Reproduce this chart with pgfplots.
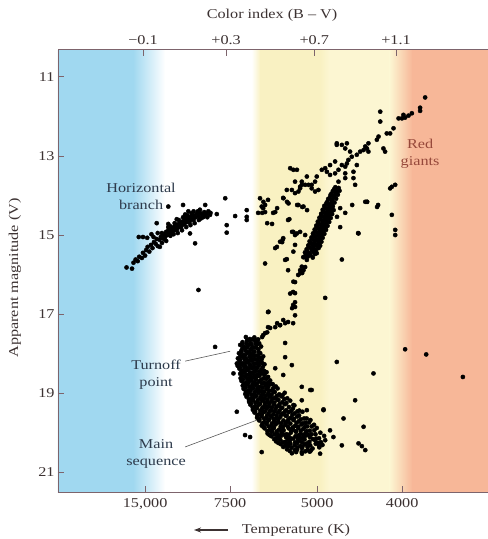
\documentclass[border=0pt]{standalone}
\usepackage{fontspec}
\setmainfont{Liberation Serif}[FakeStretch=1.2]
\usepackage{pgfplots}
\pgfplotsset{compat=1.18}
\usetikzlibrary{arrows.meta}
\definecolor{bgblue}{RGB}{160,216,240}
\definecolor{bgyel}{RGB}{249,241,194}
\definecolor{bgyel2}{RGB}{252,246,210}
\definecolor{bgsal}{RGB}{247,183,152}
\definecolor{axiscol}{RGB}{125,100,108}
\definecolor{tickcol}{RGB}{60,50,50}
\definecolor{notecol}{RGB}{45,58,75}
\definecolor{redcol}{RGB}{150,72,58}
\begin{document}
\begin{tikzpicture}
\path[use as bounding box] (-58bp,-47bp) rectangle (430bp,492bp);
\begin{axis}[
  at={(0,0)}, anchor=south west,
  scale only axis, width=430bp, height=442bp,
  xmin=-0.503, xmax=1.536, ymin=10.32, ymax=21.5, y dir=reverse,
  axis line style={draw=none},
  axis on top,
  tick align=inside, major tick length=6bp,
  tick style={draw=axiscol, line width=0.8bp},
  xtick={-0.090,0.313,0.726,1.129},
  xticklabels={{15,000},7500,5000,4000},
  xtick pos=bottom, xticklabel pos=bottom,
  xticklabel style={yshift=-3bp},
  ytick={11,13,15,17,19,21}, yticklabels={11,13,15,17,19,21},
  ytick pos=left,
  ticklabel style={font=\fontsize{13.5bp}{15bp}\selectfont, text=tickcol},
  mark size=2.1bp,
]
% background colour bands
\fill[bgblue] (axis cs:-0.6,10) rectangle (axis cs:-0.145,22);
\shade[left color=bgblue, right color=white] (axis cs:-0.147,10) rectangle (axis cs:0.005,22);
\shade[left color=white, right color=bgyel] (axis cs:0.415,10) rectangle (axis cs:0.457,22);
\fill[bgyel] (axis cs:0.455,10) rectangle (axis cs:0.742,22);
\shade[left color=bgyel, right color=bgyel2] (axis cs:0.74,10) rectangle (axis cs:0.782,22);
\fill[bgyel2] (axis cs:0.78,10) rectangle (axis cs:1.072,22);
\shade[left color=bgyel2, right color=bgsal] (axis cs:1.07,10) rectangle (axis cs:1.178,22);
\fill[bgsal] (axis cs:1.176,10) rectangle (axis cs:1.7,22);

% horizontal branch
\addplot[only marks, mark=*, black] coordinates {
(-0.178,15.82) (-0.152,15.85) (-0.145,15.70) (-0.135,15.62) (-0.125,15.66) (-0.118,15.55)
(-0.105,15.58) (-0.100,15.45) (-0.090,15.52) (-0.085,15.38) (-0.078,15.30) (-0.070,15.42)
(-0.062,15.25) (-0.055,15.33) (-0.048,15.18) (-0.040,15.22) (-0.035,15.10) (-0.030,15.28)
(-0.022,15.12) (-0.015,15.04) (-0.010,15.20) (-0.005,15.08) (-0.120,15.05) (-0.100,15.05) (-0.080,15.07)
(0.000,14.98) (0.005,15.05) (0.010,14.92) (0.015,15.00) (0.020,14.88) (0.025,14.95)
(0.030,14.85) (0.035,14.92) (0.040,14.82) (0.045,14.88) (0.050,14.78) (0.055,14.85)
(0.060,14.75) (0.065,14.82) (0.070,14.72) (0.075,14.78) (0.080,14.68) (0.085,14.75)
(0.090,14.65) (0.095,14.72) (0.100,14.62) (0.105,14.68) (0.110,14.58) (0.115,14.64)
(0.120,14.55) (0.125,14.62) (0.130,14.52) (0.135,14.58) (0.140,14.50) (0.150,14.55)
(0.155,14.46) (0.165,14.52) (0.170,14.44) (0.180,14.48) (0.190,14.42) (0.200,14.46)
(0.210,14.40) (0.220,14.44)
(0.020,14.80) (0.040,14.95) (0.060,14.88) (0.080,14.80) (0.100,14.55) (0.120,14.68)
(0.140,14.62) (0.160,14.40) (0.000,15.10) (0.030,15.02) (-0.010,14.95) (0.070,14.62)
(0.090,14.55) (0.110,14.50) (0.130,14.45) (0.050,14.70) (0.175,14.58) (0.195,14.50)
(0.020,14.72) (0.045,14.98) (0.065,14.95) (0.085,14.88) (0.105,14.80) (0.125,14.75)
(0.145,14.70) (0.165,14.62) (0.185,14.55) (0.205,14.55) (0.030,14.78) (0.060,14.60)
(0.100,14.48) (0.140,14.40) (0.170,14.36) (0.115,14.40) (-0.030,14.95) (-0.050,15.05)
(-0.060,14.98) (0.010,15.15) (-0.020,15.30)
(0.290,14.07) (0.337,14.52) (0.392,14.37) (0.392,14.54) (0.392,14.62) (0.297,14.75) (0.297,14.94)
(0.123,14.96) (0.147,15.21) (0.163,16.39) (-0.035,14.70) (0.020,14.28) (0.090,14.24)
(0.218,14.49) (0.195,14.24) (0.250,14.47) (0.242,17.83)
};

% giant branch, dense part
\addplot[only marks, mark=*, black] coordinates {
(0.664,15.56) (0.683,15.54) (0.705,15.57)
(0.672,15.49) (0.694,15.51) (0.715,15.48)
(0.668,15.44) (0.689,15.46) (0.707,15.43) (0.724,15.46)
(0.679,15.41) (0.701,15.38) (0.719,15.40)
(0.676,15.36) (0.697,15.34) (0.716,15.37) (0.733,15.33)
(0.686,15.29) (0.708,15.31) (0.727,15.28)
(0.684,15.26) (0.704,15.24) (0.722,15.25) (0.740,15.27)
(0.694,15.19) (0.713,15.21) (0.735,15.18)
(0.690,15.16) (0.711,15.14) (0.728,15.15) (0.746,15.17)
(0.701,15.09) (0.722,15.11) (0.741,15.08)
(0.699,15.06) (0.718,15.04) (0.737,15.05) (0.752,15.07)
(0.709,14.99) (0.731,15.01) (0.748,14.98)
(0.706,14.96) (0.725,14.94) (0.744,14.95) (0.760,14.97)
(0.716,14.89) (0.738,14.91) (0.755,14.88)
(0.714,14.86) (0.733,14.84) (0.751,14.85) (0.768,14.87)
(0.724,14.79) (0.745,14.81) (0.763,14.78)
(0.722,14.76) (0.741,14.74) (0.759,14.75) (0.775,14.77)
(0.731,14.69) (0.752,14.71) (0.770,14.68)
(0.729,14.66) (0.749,14.64) (0.768,14.65) (0.783,14.67)
(0.739,14.59) (0.760,14.61) (0.778,14.58)
(0.737,14.56) (0.756,14.54) (0.775,14.55) (0.790,14.57)
(0.746,14.49) (0.767,14.51) (0.785,14.48)
(0.745,14.46) (0.763,14.44) (0.782,14.45) (0.797,14.47)
(0.754,14.39) (0.775,14.41) (0.792,14.38)
(0.752,14.36) (0.771,14.34) (0.790,14.35) (0.804,14.37)
(0.762,14.29) (0.783,14.31) (0.800,14.28)
(0.760,14.26) (0.779,14.24) (0.797,14.25)
(0.770,14.19) (0.790,14.21) (0.808,14.18)
(0.774,14.16) (0.795,14.14)
(0.778,14.09) (0.798,14.11) (0.816,14.08)
(0.785,14.06) (0.803,14.04)
(0.789,13.99) (0.808,14.01) (0.824,13.98)
(0.793,13.96) (0.812,13.94)
(0.800,13.89) (0.818,13.91) (0.832,13.88)
(0.806,13.84) (0.823,13.86)
(0.812,13.79) (0.828,13.81)
};

% giant branch, upper part and surroundings
\addplot[only marks, mark=*, black] coordinates {
(1.238,11.52) (1.214,11.78) (1.214,11.86) (1.175,11.92) (1.159,11.98) (1.143,12.03)
(1.128,12.05) (1.135,11.96) (1.112,12.05) (1.088,12.30) (1.056,12.43) (1.017,12.51)
(1.009,12.59) (1.025,11.88) (1.025,12.13) (0.969,12.68) (0.962,12.81) (0.954,12.76)
(0.946,12.85) (0.930,12.89) (0.914,12.97) (0.890,13.02) (0.874,13.10) (0.859,13.27)
(1.040,12.81) (1.048,12.89) (1.072,12.43) (1.096,13.73) (1.080,13.78) (0.969,12.89)
(0.882,12.89) (0.859,12.81) (0.819,12.72) (0.843,12.72) (0.867,13.19) (0.843,13.23)
(0.827,13.35) (0.811,13.44) (0.787,13.48) (0.772,13.40) (0.764,13.31) (0.748,13.35)
(0.724,13.52) (0.716,13.65) (0.700,13.73) (0.685,13.73) (0.669,13.73) (0.653,13.65)
(0.645,13.78) (0.637,13.90) (0.621,13.94) (0.606,13.86) (0.598,13.31) (0.613,13.35)
(0.859,13.44) (0.859,13.56) (0.898,13.56) (0.906,13.73) (0.954,14.16) (0.898,13.40)
(0.811,13.14) (0.787,13.23) (0.914,13.23) (0.827,13.65) (0.819,12.68) (0.867,12.68)
(0.630,13.35) (0.621,13.65) (0.653,13.73) (0.645,13.82) (0.582,13.86) (0.677,13.52)
(0.700,13.82) (0.716,13.90) (0.732,13.86) (0.455,14.07) (0.471,14.16) (0.463,14.28)
(0.566,14.07) (0.590,14.20) (0.637,14.24) (0.661,14.28) (0.594,14.60)
(0.630,14.96) (0.613,14.92) (0.621,15.00) (0.535,15.30) (0.550,15.17) (0.563,15.11)
(0.479,15.72) (0.582,15.61) (0.621,15.25) (0.613,15.42) (0.669,15.55) (0.677,15.63)
(0.653,15.80) (0.661,15.89) (0.645,15.97) (0.598,16.48) (0.613,16.18)
(0.479,14.24) (0.470,14.32) (0.479,14.42) (0.465,14.44) (0.446,14.44) (0.493,14.11)
(0.536,14.32) (0.527,14.42) (0.517,14.44) (0.489,14.70) (0.512,14.72) (0.565,14.06)
(0.583,14.16) (0.631,14.24) (0.655,14.29) (0.678,14.37) (0.588,14.62) (0.607,14.92)
(0.645,14.92) (0.565,15.08) (0.560,15.18) (0.527,15.33) (0.669,15.00)
(0.660,15.56) (0.574,15.63) (0.588,15.89) (0.645,15.89) (0.655,15.96) (0.636,16.01)
(0.669,15.81) (0.621,16.19) (0.612,16.44) (0.621,16.47) (0.621,16.70) (0.612,16.77)
(0.607,16.85) (0.621,16.82) (0.621,17.03) (0.493,16.95) (0.764,16.59) (0.843,15.62)
(0.920,14.95) (0.565,17.15) (0.574,17.23) (0.550,17.28) (0.536,17.23) (0.493,17.33)
(0.612,17.23) (0.835,14.32) (0.859,14.44) (0.892,14.24) (0.963,14.16) (1.010,14.29)
(1.015,14.24) (0.835,14.80) (0.820,14.54) (1.080,14.49) (1.096,14.87) (1.096,15.00)
(0.962,14.16) (0.922,14.96) (1.072,13.82)
(0.470,17.53) (0.489,17.46) (0.503,17.35) (0.527,17.33) (0.550,17.28) (0.588,17.20)
(0.465,17.58) (0.479,17.48) (0.495,16.94)
};

% turnoff and main sequence
\addplot[only marks, mark=*, black] coordinates {
(0.388,17.58) (0.407,17.63) (0.428,17.59) (0.446,17.64)
(0.372,17.71) (0.393,17.67) (0.411,17.73) (0.433,17.69) (0.451,17.74)
(0.361,17.78) (0.382,17.83) (0.399,17.79) (0.423,17.84) (0.441,17.77) (0.460,17.82)
(0.367,17.92) (0.384,17.88) (0.408,17.91) (0.426,17.95) (0.447,17.89)
(0.355,17.99) (0.377,18.04) (0.396,17.98) (0.413,18.02) (0.437,18.05) (0.456,17.99)
(0.350,18.12) (0.371,18.08) (0.389,18.13) (0.411,18.09) (0.428,18.14) (0.452,18.10) (0.470,18.07)
(0.357,18.19) (0.374,18.24) (0.397,18.21) (0.414,18.18) (0.436,18.25) (0.457,18.20)
(0.349,18.31) (0.369,18.28) (0.387,18.33) (0.409,18.29) (0.427,18.34) (0.449,18.30) (0.476,18.27)
(0.357,18.38) (0.373,18.43) (0.396,18.41) (0.416,18.37) (0.434,18.44) (0.461,18.40)
(0.361,18.51) (0.378,18.48) (0.401,18.53) (0.419,18.49) (0.441,18.54) (0.463,18.50) (0.486,18.47)
(0.363,18.62) (0.384,18.58) (0.401,18.63) (0.424,18.60) (0.444,18.57) (0.471,18.63) (0.493,18.59)
(0.367,18.69) (0.389,18.73) (0.409,18.68) (0.427,18.72) (0.452,18.70) (0.474,18.74) (0.503,18.68)
(0.373,18.81) (0.391,18.78) (0.413,18.83) (0.433,18.79) (0.454,18.84) (0.481,18.80) (0.504,18.77) (0.530,18.83)
(0.377,18.89) (0.399,18.93) (0.417,18.88) (0.441,18.92) (0.461,18.95) (0.486,18.89) (0.511,18.93) (0.538,18.88)
(0.385,19.02) (0.403,18.98) (0.426,19.03) (0.447,18.99) (0.471,19.04) (0.494,19.00) (0.521,18.97) (0.546,19.03) (0.572,18.99)
(0.391,19.09) (0.413,19.13) (0.431,19.08) (0.456,19.12) (0.477,19.14) (0.501,19.09) (0.524,19.12) (0.556,19.08) (0.584,19.13)
(0.403,19.22) (0.421,19.18) (0.443,19.23) (0.464,19.19) (0.489,19.24) (0.509,19.20) (0.536,19.17) (0.561,19.23) (0.598,19.19)
(0.409,19.29) (0.431,19.33) (0.451,19.28) (0.476,19.32) (0.497,19.34) (0.521,19.29) (0.544,19.32) (0.573,19.28) (0.618,19.31)
(0.421,19.42) (0.439,19.38) (0.463,19.43) (0.484,19.39) (0.509,19.44) (0.529,19.40) (0.556,19.37) (0.579,19.43) (0.611,19.39) (0.641,19.44)
(0.429,19.49) (0.451,19.53) (0.471,19.48) (0.496,19.52) (0.517,19.54) (0.541,19.49) (0.564,19.52) (0.591,19.48) (0.619,19.51) (0.656,19.47)
(0.441,19.62) (0.461,19.58) (0.486,19.63) (0.507,19.59) (0.531,19.64) (0.551,19.60) (0.576,19.57) (0.599,19.63) (0.631,19.59) (0.664,19.64)
(0.451,19.69) (0.476,19.73) (0.497,19.68) (0.521,19.72) (0.541,19.74) (0.566,19.69) (0.587,19.72) (0.613,19.68) (0.639,19.71) (0.671,19.75) (0.694,19.68)
(0.463,19.82) (0.484,19.78) (0.509,19.83) (0.529,19.79) (0.553,19.84) (0.574,19.80) (0.599,19.77) (0.621,19.83) (0.651,19.79) (0.679,19.84) (0.711,19.80)
(0.477,19.89) (0.501,19.93) (0.521,19.88) (0.546,19.92) (0.567,19.94) (0.591,19.89) (0.611,19.92) (0.636,19.88) (0.659,19.91) (0.691,19.95) (0.724,19.88)
(0.491,20.02) (0.511,19.98) (0.536,20.03) (0.557,19.99) (0.581,20.04) (0.601,20.00) (0.626,19.97) (0.647,20.03) (0.673,19.99) (0.699,20.04) (0.741,20.00)
(0.509,20.09) (0.533,20.13) (0.554,20.08) (0.579,20.12) (0.599,20.14) (0.623,20.09) (0.644,20.12) (0.669,20.08) (0.691,20.11) (0.721,20.15) (0.759,20.08)
(0.531,20.22) (0.551,20.18) (0.576,20.23) (0.597,20.19) (0.621,20.24) (0.641,20.20) (0.666,20.17) (0.689,20.23) (0.716,20.19) (0.744,20.24)
(0.553,20.29) (0.574,20.33) (0.599,20.28) (0.619,20.32) (0.646,20.34) (0.667,20.29) (0.693,20.32) (0.719,20.28) (0.751,20.31)
(0.583,20.42) (0.604,20.38) (0.631,20.43) (0.654,20.39) (0.681,20.44) (0.704,20.40) (0.736,20.37)
(0.626,20.49) (0.654,20.53) (0.691,20.48)
(0.574,17.73) (0.574,18.09) (0.606,18.29) (0.527,18.37) (0.565,18.54) (0.653,18.84)
(0.693,18.92) (0.653,19.18) (0.613,19.30) (0.677,19.43) (0.756,19.43) (0.851,19.64)
(0.819,18.21) (0.993,18.50) (0.906,19.18) (0.946,19.85) (0.922,20.27) (0.938,20.34)
(0.954,20.44) (0.843,20.32) (0.787,19.94) (0.803,20.11) (0.463,20.49) (0.408,20.11)
(0.384,20.06) (0.345,19.47) (0.329,18.50) (0.345,18.25) (0.653,20.49) (0.606,20.52)
(0.700,18.92) (0.756,19.41) (0.764,20.19) (0.740,20.53)
(1.143,17.89) (1.243,18.02) (1.417,18.59)
};

% turnoff and main sequence, second (interleaved) layer of stars
\addplot[only marks, mark=*, black] coordinates {
(0.398,17.66) (0.420,17.64) (0.440,17.67)
(0.372,17.76) (0.392,17.74) (0.413,17.77) (0.433,17.75)
(0.372,17.86) (0.394,17.84) (0.414,17.87) (0.436,17.85)
(0.367,17.96) (0.389,17.94) (0.405,17.97) (0.427,17.95) (0.448,17.96)
(0.362,18.06) (0.384,18.04) (0.405,18.07) (0.425,18.05) (0.446,18.06)
(0.360,18.16) (0.381,18.14) (0.402,18.17) (0.421,18.15) (0.441,18.16) (0.463,18.14)
(0.362,18.26) (0.385,18.24) (0.405,18.27) (0.426,18.25) (0.447,18.26) (0.466,18.24)
(0.360,18.36) (0.380,18.34) (0.400,18.37) (0.420,18.35) (0.442,18.36) (0.468,18.34)
(0.366,18.46) (0.386,18.44) (0.407,18.47) (0.427,18.45) (0.450,18.46) (0.475,18.44)
(0.370,18.56) (0.390,18.54) (0.410,18.57) (0.430,18.55) (0.452,18.56) (0.476,18.54)
(0.374,18.66) (0.394,18.64) (0.414,18.67) (0.436,18.65) (0.460,18.66) (0.484,18.64)
(0.378,18.76) (0.400,18.74) (0.420,18.77) (0.441,18.75) (0.464,18.76) (0.490,18.74) (0.515,18.77)
(0.385,18.86) (0.404,18.84) (0.425,18.87) (0.446,18.85) (0.468,18.86) (0.494,18.84) (0.518,18.87)
(0.388,18.96) (0.410,18.94) (0.430,18.97) (0.452,18.95) (0.475,18.96) (0.498,18.94) (0.525,18.97)
(0.396,19.06) (0.416,19.04) (0.438,19.07) (0.461,19.05) (0.484,19.06) (0.510,19.04) (0.535,19.07) (0.562,19.05)
(0.402,19.16) (0.423,19.14) (0.445,19.17) (0.468,19.15) (0.490,19.16) (0.514,19.14) (0.542,19.17) (0.570,19.15)
(0.412,19.26) (0.433,19.24) (0.455,19.27) (0.478,19.25) (0.500,19.26) (0.523,19.24) (0.548,19.27) (0.580,19.25)
(0.420,19.36) (0.442,19.34) (0.466,19.37) (0.488,19.35) (0.511,19.36) (0.534,19.34) (0.560,19.37) (0.592,19.35)
(0.432,19.46) (0.456,19.44) (0.478,19.47) (0.500,19.45) (0.524,19.46) (0.548,19.44) (0.572,19.47) (0.602,19.45) (0.632,19.46)
(0.442,19.56) (0.464,19.54) (0.488,19.57) (0.533,19.56) (0.556,19.54) (0.582,19.57) (0.608,19.55) (0.640,19.56)
(0.452,19.66) (0.474,19.64) (0.497,19.67) (0.519,19.65) (0.542,19.66) (0.589,19.67) (0.616,19.65) (0.648,19.66) (0.676,19.64)
(0.466,19.76) (0.488,19.74) (0.511,19.77) (0.532,19.75) (0.556,19.76) (0.578,19.74) (0.628,19.75) (0.658,19.76) (0.688,19.74)
(0.472,19.86) (0.496,19.84) (0.518,19.87) (0.563,19.86) (0.586,19.84) (0.610,19.87) (0.636,19.85) (0.666,19.86) (0.700,19.84)
(0.490,19.96) (0.512,19.94) (0.534,19.97) (0.558,19.95) (0.602,19.94) (0.624,19.97) (0.648,19.95) (0.676,19.96) (0.712,19.94)
(0.500,20.06) (0.524,20.04) (0.546,20.07) (0.569,20.05) (0.590,20.06) (0.636,20.07) (0.660,20.05) (0.686,20.06) (0.718,20.04)
(0.522,20.16) (0.544,20.14) (0.590,20.17) (0.612,20.15) (0.634,20.16) (0.656,20.14) (0.705,20.16) (0.735,20.14)
(0.542,20.26) (0.564,20.24) (0.588,20.27) (0.632,20.26) (0.654,20.24) (0.678,20.27) (0.730,20.26)
(0.565,20.36) (0.588,20.34) (0.632,20.37) (0.656,20.35) (0.680,20.36) (0.735,20.34)
(0.596,20.46) (0.620,20.44) (0.670,20.47) (0.696,20.45)
};

% annotations
\node[align=center, text=notecol, font=\fontsize{13.5bp}{17bp}\selectfont, inner sep=0pt] at (axis cs:-0.109,14.01) {Horizontal\\branch};
\node[align=center, text=notecol, font=\fontsize{13.5bp}{17bp}\selectfont, inner sep=0pt] at (axis cs:-0.038,18.52) {Turnoff\\point};
\node[align=center, text=notecol, font=\fontsize{13.5bp}{17bp}\selectfont, inner sep=0pt] at (axis cs:-0.038,20.54) {Main\\sequence};
\node[align=center, text=redcol, font=\fontsize{13.5bp}{17bp}\selectfont, inner sep=0pt] at (axis cs:1.214,12.94) {Red\\giants};
\draw[gray!70!black, line width=0.6bp] (axis cs:0.100,18.19) -- (axis cs:0.313,17.94);
\draw[gray!70!black, line width=0.6bp] (axis cs:0.100,20.36) -- (axis cs:0.441,19.68);
\end{axis}

% top axis: colour index
\begin{axis}[
  at={(0,0)}, anchor=south west,
  scale only axis, width=430bp, height=442bp,
  xmin=-0.503, xmax=1.536, ymin=10.32, ymax=21.5, y dir=reverse,
  axis line style={draw=none},
  ytick=\empty,
  tick align=inside, major tick length=6bp,
  tick style={draw=axiscol, line width=0.8bp},
  xtick={-0.100,0.294,0.712,1.100},
  xticklabels={−0.1,+0.3,+0.7,+1.1},
  xtick pos=top, xticklabel pos=top,
  xticklabel style={yshift=2bp},
  ticklabel style={font=\fontsize{13.5bp}{15bp}\selectfont, text=tickcol},
]
\end{axis}

% axis frame (left, bottom, top)
\draw[axiscol, line width=1bp] (0,442bp) -- (430bp,442bp);
\draw[axiscol, line width=1bp] (0,0) -- (430bp,0);
\draw[axiscol, line width=1bp] (0,0) -- (0,442bp);

% axis titles
\node[text=tickcol, font=\fontsize{13.5bp}{15bp}\selectfont] at (214bp,477bp) {Color index (B – V)};
\draw[tickcol, line width=1.1bp, -{Stealth[length=7bp,width=5bp]}] (170bp,-38bp) -- (136bp,-38bp);
\node[text=tickcol, font=\fontsize{13.5bp}{15bp}\selectfont] at (238bp,-38bp) {Temperature (K)};
\node[text=tickcol, rotate=90, font=\fontsize{13.5bp}{15bp}\selectfont] at (-43bp,214bp) {Apparent magnitude (V)};
\end{tikzpicture}
\end{document}
